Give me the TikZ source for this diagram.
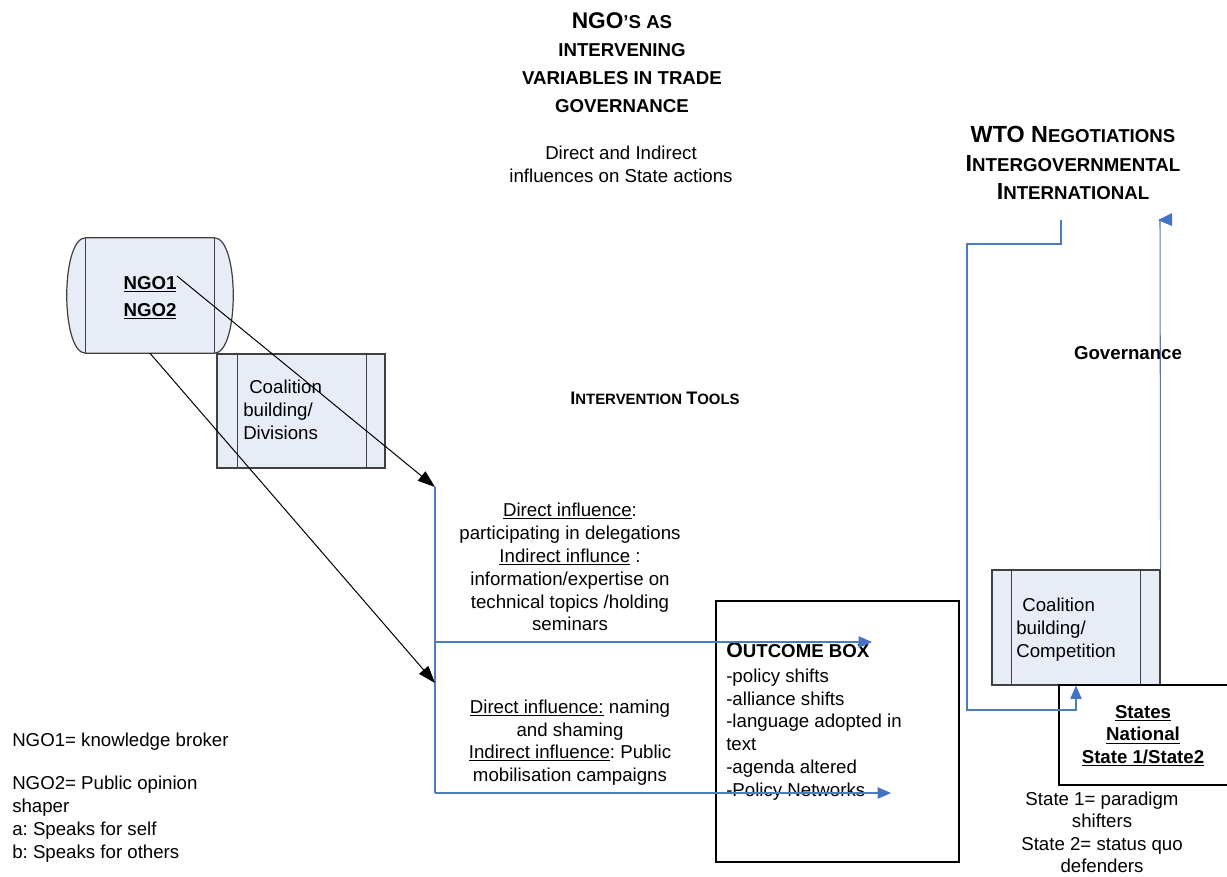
\documentclass[tikz,border=0pt]{standalone}
\usepackage{fontspec}
\setmainfont{Liberation Sans}
\usetikzlibrary{arrows.meta}
\frenchspacing
\definecolor{boxfill}{RGB}{231,236,247}
\definecolor{boxline}{RGB}{64,64,64}
\definecolor{lineblue}{RGB}{74,126,187}
\definecolor{tipblue}{RGB}{68,114,196}
\newsavebox\ulbox
\newcommand\myul[1]{\sbox\ulbox{#1}\rlap{\rule[-1.9pt]{\wd\ulbox}{0.75pt}}\usebox\ulbox}
\newcommand\fs[2]{{\fontsize{#1}{#1}\selectfont #2}}
\begin{document}
\begin{tikzpicture}[x=0.75pt,y=-0.75pt,
  body/.style={font=\fontsize{14}{17.2}\selectfont, inner sep=0pt},
  boldbody/.style={font=\bfseries\fontsize{14}{17}\selectfont, inner sep=0pt},
  cbox/.style={draw=boxline, fill=boxfill, line width=0.9pt, inner sep=0pt, minimum width=126pt},
  frame/.style={draw=black, line width=1pt, inner sep=0pt},
  blk/.style={draw=black, line width=0.75pt, -{Triangle[length=13pt,width=9pt]}},
  bl/.style={draw=lineblue, line width=0.8pt},
  bltip/.style={bl, -{Triangle[length=10pt,width=8.5pt,color=tipblue]}}
]
\useasboundingbox (0,0) rectangle (1227,876);
\clip (0,0) rectangle (1227,876);
\fill[white] (0,0) rectangle (1227,876);

% titles
\node[font=\bfseries\fontsize{14}{21.2}\selectfont, align=center, anchor=north, inner sep=0pt] (title) at (622,12)
  {\fs{17}{NGO}’S AS\\INTERVENING\\VARIABLES IN TRADE\\GOVERNANCE};
\node[body, font=\fontsize{14}{16.8}\selectfont, align=center, anchor=north] (sub) at (621,146)
  {Direct and Indirect\\influences on State actions};
\node[font=\bfseries\fontsize{14}{21.4}\selectfont, align=center, anchor=north, inner sep=0pt] (wto) at (1073,126)
  {\fs{17.5}{WTO N}EGOTIATIONS\\\fs{17.5}{I}NTERGOVERNMENTAL\\\fs{17.5}{I}NTERNATIONAL};
\node[font=\bfseries\fontsize{11.2}{13}\selectfont, inner sep=0pt] (tools) at (655,398)
  {\fs{13.6}{I}NTERVENTION \fs{13.6}{T}OOLS};
\node[boldbody] (gov) at (1128,353) {Governance};

% NGO cylinder
\node[inner sep=0pt, minimum width=96pt, minimum height=86.25pt] (ngo) at (150,295.5) {};
\filldraw[fill=boxfill, draw=boxline, line width=0.9pt]
  (ngo.north west) -- (ngo.north east) .. controls +(19pt,0) and +(19pt,0) .. (ngo.south east)
  -- (ngo.south west) .. controls +(-19pt,0) and +(-19pt,0) .. (ngo.north west) -- cycle;
\draw[boxline, line width=0.9pt] (ngo.north west) -- (ngo.south west) (ngo.north east) -- (ngo.south east);
\node[font=\bfseries\fontsize{14}{20.2}\selectfont, align=center, anchor=north, inner sep=0pt] (ngotext) at (150,276)
  {\myul{NGO1}\\\myul{NGO2}};

% coalition box 1
\node[cbox, minimum height=85.5pt] (c1) at (301,411) {};
\draw[boxline, line width=0.9pt] ([xshift=15.75pt]c1.north west) -- ([xshift=15.75pt]c1.south west)
  ([xshift=-14.25pt]c1.north east) -- ([xshift=-14.25pt]c1.south east);
\node[body, align=left, anchor=north west] (c1t) at (243,380)
  {\hspace*{4.5pt}Coalition\\building/\\Divisions};

% coalition box 2
\node[cbox, minimum height=86.25pt] (c2) at (1076,627.5) {};
\draw[boxline, line width=0.9pt] ([xshift=15pt]c2.north west) -- ([xshift=15pt]c2.south west)
  ([xshift=-15pt]c2.north east) -- ([xshift=-15pt]c2.south east);
\node[body, align=left, anchor=north west] (c2t) at (1016,598)
  {\hspace*{4.5pt}Coalition\\building/\\Competition};

% outcome box
\node[frame, minimum width=182.25pt, minimum height=195.75pt] (ob) at (837.5,731.5) {};
\node[body, align=left, anchor=north west] (obt) at (726,642)
  {\textbf{\fs{16}{O}UTCOME BOX}\\[1.5pt]-policy shifts\\-alliance shifts\\-language adopted in\\text\\-agenda altered\\-Policy Networks};

% states box (runs past the right edge)
\node[frame, minimum width=135.75pt, minimum height=75pt] (st) at (1149.5,735) {};
\node[boldbody, align=center, anchor=north] (stt) at (1143,705)
  {\myul{States}\\\myul{National}\\\myul{State 1/State2}};
\node[body, font=\fontsize{14}{16.6}\selectfont, align=center, anchor=north] (stn) at (1102,792)
  {State 1= paradigm\\shifters\\State 2= status quo\\defenders};

% influence texts
\node[body, font=\fontsize{14}{17.1}\selectfont, align=center, anchor=north] (d1) at (570,503)
  {\myul{Direct influence}:\\participating in delegations\\\myul{Indirect influnce} :\\information/expertise on\\technical topics /holding\\seminars};
\node[body, font=\fontsize{14}{16.8}\selectfont, align=center, anchor=north] (d2) at (570,700)
  {\myul{Direct influence:} naming\\and shaming\\\myul{Indirect influence}: Public\\mobilisation campaigns};

% notes
\node[body, anchor=north west] (n1) at (12,733) {NGO1= knowledge broker};
\node[body, align=left, anchor=north west] (n2) at (12,776)
  {NGO2= Public opinion\\shaper\\a: Speaks for self\\b: Speaks for others};

% coordinates
\coordinate (a1s) at (177,276);
\coordinate (vtop) at (435,487);
\coordinate (a2e) at (435,683);
\coordinate (vmid) at (435,642);
\coordinate (vbot) at (435,793);
\coordinate (t1) at (872,642);
\coordinate (t2) at (891,793);
\coordinate (w1) at (1061,220);
\coordinate (wbend) at (1061,244);
\coordinate (wleft) at (967,244);
\coordinate (wlow) at (967,710);
\coordinate (gtop) at (1160,219);

% blue connectors
\draw[bl] (vtop) -- (vbot);
\draw[bltip] (vmid) -- (t1);
\draw[bltip] (vbot) -- (t2);
\draw[bltip] (w1) -- (wbend) -- (wleft) -- (wlow) -| (c2.south);
\draw[bl] (c2.north east) -- (gtop);
\fill[tipblue] (gtop) ++(-2,1) -- ++(14,-7) -- ++(0,13) -- cycle;

% black connectors
\draw[blk] (a1s) -- (vtop);
\draw[blk] (ngo.south) -- (a2e);
\end{tikzpicture}
\end{document}
